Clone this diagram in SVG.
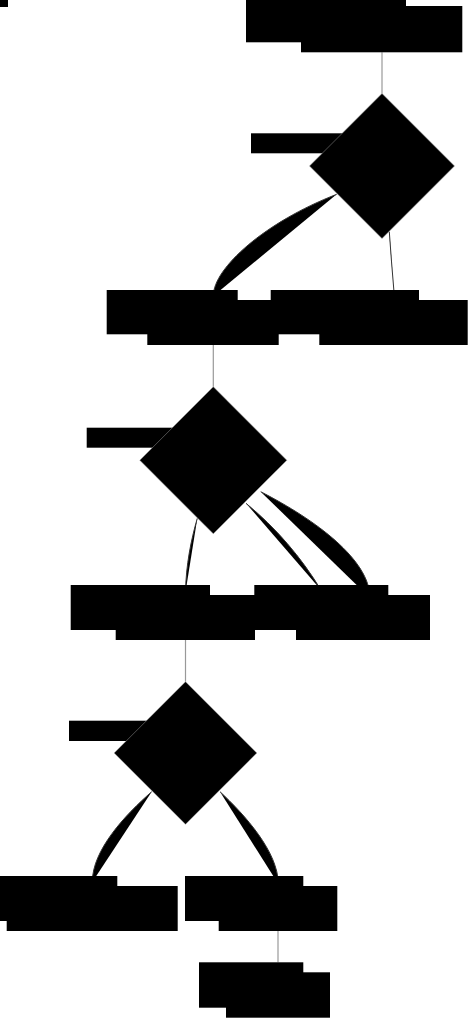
<svg xmlns="http://www.w3.org/2000/svg" width="474" height="1024" viewBox="0 0 474 1024">
<style>
.bg{fill:#ffffff}
.box{fill:#000000}
.dia{fill:#000000;stroke:#9a9a9a;stroke-width:0.5}
.lbl{fill:#000000}
.link{fill:#000000;stroke:#333333;stroke-width:1}
.vline{fill:none;stroke:#999999;stroke-width:1.2}
</style>
<rect class="bg" x="0" y="0" width="474" height="1024"/>
<rect class="lbl" x="0" y="0" width="8" height="7"/>
<g id="connectors">
  <line class="vline" x1="382" y1="52.3" x2="382" y2="93.5"/>
  <path class="link" d="M336.7,194.3 C265,222 213.3,268 213.3,296"/>
  <path class="link" d="M389.3,231.7 C390.5,252 392.5,272 394,292"/>
  <line class="vline" x1="213.3" y1="345" x2="213.3" y2="386.8"/>
  <path class="link" d="M197.3,518.3 C191,540 186,565 185.5,592"/>
  <path class="link" d="M246,503.3 C276,528 301,557 321,590"/>
  <path class="link" d="M260.7,491.7 C316,520 370,560 370,598"/>
  <line class="vline" x1="185.5" y1="640" x2="185.5" y2="681.7"/>
  <path class="link" d="M151.7,791.7 C125,815 92.3,850 92.3,882"/>
  <path class="link" d="M220,791.7 C245,815 278.3,852 278.3,884"/>
  <line class="vline" x1="278" y1="931" x2="278" y2="962.3"/>
</g>
<g id="edge-labels">
  <rect class="lbl" x="251" y="133.3" width="100" height="20"/>
  <rect class="lbl" x="86.7" y="427.7" width="100" height="20"/>
  <rect class="lbl" x="69" y="720.7" width="100" height="20.3"/>
</g>
<g id="n1">
  <rect class="box" x="246" y="0" width="160" height="42.3"/>
  <rect class="box" x="301" y="6" width="161.3" height="46.3"/>
</g>
<g id="d1">
  <polygon class="dia" points="382,93.5 454.5,166 382,238.5 309.5,166"/>
</g>
<g id="n2a">
  <rect class="box" x="106.7" y="290" width="131" height="44.3"/>
  <rect class="box" x="147.3" y="300" width="131.4" height="45"/>
</g>
<g id="n2b">
  <rect class="box" x="270.7" y="290" width="148.3" height="44.3"/>
  <rect class="box" x="319.3" y="300" width="148.4" height="45"/>
</g>
<g id="d2">
  <polygon class="dia" points="213.3,386.8 286.8,460.3 213.3,533.8 139.8,460.3"/>
</g>
<g id="n3a">
  <rect class="box" x="70.7" y="585" width="139.3" height="45"/>
  <rect class="box" x="115.7" y="595" width="139.3" height="45"/>
</g>
<g id="n3b">
  <rect class="box" x="254.3" y="585" width="134" height="45"/>
  <rect class="box" x="296" y="595" width="134" height="45"/>
</g>
<g id="d3">
  <polygon class="dia" points="185.5,681.7 256.8,753 185.5,824.3 114.2,753"/>
</g>
<g id="n4a">
  <rect class="box" x="0" y="876" width="117.3" height="45"/>
  <rect class="box" x="6.7" y="886" width="171" height="45"/>
</g>
<g id="n4b">
  <rect class="box" x="185" y="876" width="118.3" height="45"/>
  <rect class="box" x="218.7" y="886" width="118.6" height="45"/>
</g>
<g id="n5">
  <rect class="box" x="199" y="962.3" width="104.3" height="45.4"/>
  <rect class="box" x="226" y="972.3" width="104" height="45.4"/>
</g>
</svg>
